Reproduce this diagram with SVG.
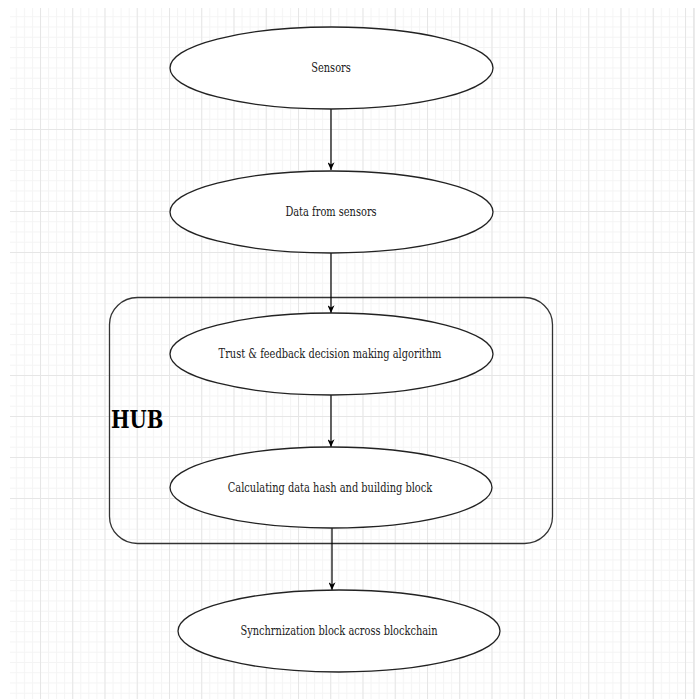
<svg xmlns="http://www.w3.org/2000/svg" width="700" height="699" viewBox="0 0 700 699">
  <defs>
    <pattern id="minor" patternUnits="userSpaceOnUse" x="7.75" y="6" width="8.0625" height="10.25">
      <path d="M0 0.5 H8.0625 M0.5 0 V10.25" fill="none" stroke="#f4f4f4" stroke-width="1"/>
    </pattern>
    <pattern id="major" patternUnits="userSpaceOnUse" x="7.75" y="6" width="32.25" height="41">
      <path d="M0 0.5 H32.25 M0.5 0 V41" fill="none" stroke="#e6e6e6" stroke-width="1"/>
    </pattern>
    <marker id="arrow" viewBox="0 0 12 10" refX="11" refY="5" markerWidth="10" markerHeight="7" markerUnits="userSpaceOnUse" orient="auto">
      <path d="M0 0 L11 5 L0 10 L3 5 Z" fill="#000"/>
    </marker>
  </defs>
  <style>
    .node { fill: #ffffff; stroke: #222222; stroke-width: 1.3; }
    .label { font-family: "DejaVu Serif", "Liberation Serif", serif; font-size: 12.5px; fill: #1a1a1a; text-anchor: middle; }
    .edge { stroke: #000000; stroke-width: 1.2; fill: none; marker-end: url(#arrow); }
    .hub { fill: none; stroke: #333333; stroke-width: 1.3; }
    .hubtext { font-family: "DejaVu Serif", "Liberation Serif", serif; font-size: 25px; font-weight: bold; fill: #000000; }
  </style>
  <rect x="0" y="0" width="700" height="699" fill="#ffffff"/>
  <rect x="10" y="8" width="684" height="691" fill="url(#minor)"/>
  <rect x="10" y="8" width="684" height="691" fill="url(#major)"/>
  <line x1="694" y1="8" x2="694" y2="699" stroke="#e4e4e4" stroke-width="1.5"/>

  <g id="hub">
    <rect class="hub" x="109.5" y="297.5" width="443" height="246" rx="28" ry="27"/>
    <text class="hubtext" transform="translate(111,428) scale(0.787,1)" x="0" y="0">HUB</text>
  </g>

  <g id="connectors">
    <line class="edge" x1="331" y1="109" x2="331" y2="170"/>
    <line class="edge" x1="331" y1="253" x2="331" y2="313"/>
    <line class="edge" x1="331" y1="395" x2="331" y2="447"/>
    <line class="edge" x1="332" y1="528" x2="332" y2="590"/>
  </g>

  <g id="sensors">
    <ellipse class="node" cx="331.5" cy="68" rx="161.5" ry="41"/>
    <text class="label" transform="translate(331,72) scale(0.787,1)">Sensors</text>
  </g>
  <g id="data">
    <ellipse class="node" cx="331.5" cy="212" rx="161.5" ry="41"/>
    <text class="label" transform="translate(331,216) scale(0.787,1)">Data from sensors</text>
  </g>
  <g id="trust">
    <ellipse class="node" cx="331.5" cy="354" rx="161.5" ry="41"/>
    <text class="label" transform="translate(330,358) scale(0.787,1)">Trust &amp; feedback decision making algorithm</text>
  </g>
  <g id="calc">
    <ellipse class="node" cx="331" cy="487.5" rx="161" ry="40.5"/>
    <text class="label" transform="translate(330,492) scale(0.787,1)">Calculating data hash and building block</text>
  </g>
  <g id="sync">
    <ellipse class="node" cx="339" cy="631" rx="161" ry="41"/>
    <text class="label" transform="translate(339,635) scale(0.787,1)">Synchrnization block across blockchain</text>
  </g>
</svg>
